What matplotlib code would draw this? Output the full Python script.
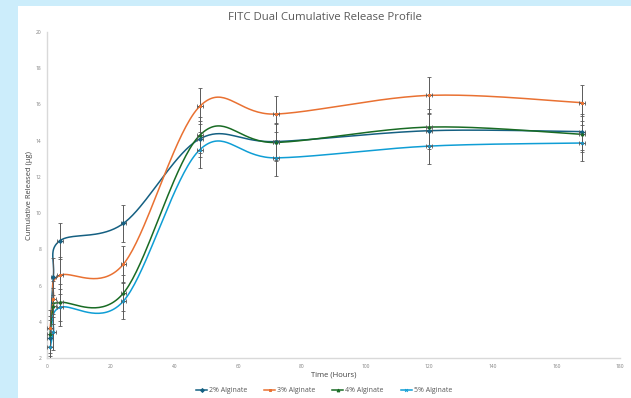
import numpy as np
import matplotlib
matplotlib.use("Agg")
import matplotlib.pyplot as plt
from matplotlib.patches import Rectangle
from matplotlib.lines import Line2D

# ---- data ----
time_h = [1, 2, 4, 24, 48, 72, 120, 168]
alg2 = [3.1, 6.5, 8.47, 9.43, 14.1, 13.95, 14.55, 14.5]
alg3 = [3.67, 5.25, 6.56, 7.18, 15.9, 15.47, 16.5, 16.1]
alg4 = [3.3, 4.86, 5.07, 5.58, 14.3, 13.9, 14.75, 14.35]
alg5 = [2.58, 3.42, 4.79, 5.14, 13.5, 13.05, 13.7, 13.87]
err2 = [1.0, 1.0, 1.0, 1.0, 1.0, 1.0, 1.0, 1.0]
err3 = [1.0, 1.0, 1.0, 1.0, 1.0, 1.0, 1.0, 1.0]
err4 = [1.0, 1.0, 1.0, 1.0, 1.0, 1.0, 1.0, 1.0]
err5 = [1.0, 1.0, 1.0, 1.0, 1.0, 1.0, 1.0, 1.0]
labels = ["2% Alginate", "3% Alginate", "4% Alginate", "5% Alginate"]
colors = ["#156082", "#E97132", "#196B24", "#0F9ED5"]
markers = ["D", "s", "^", "x"]
x_ticks = [0, 20, 40, 60, 80, 100, 120, 140, 160, 180]
y_ticks = [2, 4, 6, 8, 10, 12, 14, 16, 18, 20]

plt.rcParams['font.family'] = ['Open Sans', 'DejaVu Sans']


def smooth(x, y, n=40):
    x = np.asarray(x, float)
    y = np.asarray(y, float)
    P = np.column_stack([x, y])
    out = []
    m = len(P)
    for i in range(m - 1):
        p0 = P[i - 1] if i > 0 else P[i]
        p1 = P[i]
        p2 = P[i + 1]
        p3 = P[i + 2] if i + 2 < m else P[i + 1]
        c1 = p1 + (p2 - p0) / 6.0
        c2 = p2 - (p3 - p1) / 6.0
        t = np.linspace(0, 1, n)[:, None]
        seg = ((1 - t) ** 3) * p1 + 3 * ((1 - t) ** 2) * t * c1 + 3 * (1 - t) * t ** 2 * c2 + t ** 3 * p2
        out.append(seg if i == 0 else seg[1:])
    s = np.vstack(out)
    return s[:, 0], s[:, 1]


fig = plt.figure(figsize=(6.31, 3.98), dpi=100)
fig.patch.set_facecolor("#CCEDFB")
fig.patches.append(Rectangle((18 / 631, 0), 1 - 18 / 631, 1 - 6 / 398,
                             transform=fig.transFigure, facecolor="white",
                             edgecolor="none", zorder=-5))

ax = fig.add_axes([47 / 631, 1 - 358 / 398, (620 - 47) / 631, (358 - 32) / 398])
ax.set_facecolor("none")
ax.set_zorder(2)

series = [alg2, alg3, alg4, alg5]
errs = [err2, err3, err4, err5]
for vals, e, c, mk in zip(series, errs, colors, markers):
    sx, sy = smooth(time_h, vals)
    ax.plot(sx, sy, color=c, lw=1.1, zorder=3)
    ax.errorbar(time_h, vals, yerr=e, xerr=0.9, fmt='none', ecolor="#595959",
                elinewidth=0.7, capsize=1.2, capthick=0.6, zorder=4)
    ax.plot(time_h, vals, linestyle='none', marker=mk, color=c, markersize=2.0,
            markeredgewidth=0.7, zorder=5)

ax.set_xlim(0, 180)
ax.set_ylim(2, 20)
ax.set_xticks(x_ticks)
ax.set_yticks(y_ticks)
ax.tick_params(axis='both', length=0, labelsize=3.5, labelcolor="#7f7f7f", pad=4)
for s in ["top", "right"]:
    ax.spines[s].set_visible(False)
for s in ["left", "bottom"]:
    ax.spines[s].set_color("#d9d9d9")
    ax.spines[s].set_linewidth(1.0)

ax.set_xlabel("Time (Hours)", fontsize=5.5, color="#404040", labelpad=2)
ax.set_ylabel("Cumulative Released (µg)", fontsize=5.5, color="#404040", labelpad=2)

fig.text(324.5 / 631, 1 - 17 / 398, "FITC Dual Cumulative Release Profile",
         ha="center", va="center", fontsize=8.2, color="#595959")

handles = [Line2D([0], [0], color=c, lw=1.1, marker=mk, markersize=2.0,
                  markeredgewidth=0.7) for c, mk in zip(colors, markers)]
fig.legend(handles, labels, loc="center", bbox_to_anchor=(324 / 631, 1 - 391 / 398),
           ncol=4, frameon=False, fontsize=5, handlelength=1.6, columnspacing=2.4,
           handletextpad=0.3, labelcolor="#595959")

fig.savefig("out.png", dpi=100)
